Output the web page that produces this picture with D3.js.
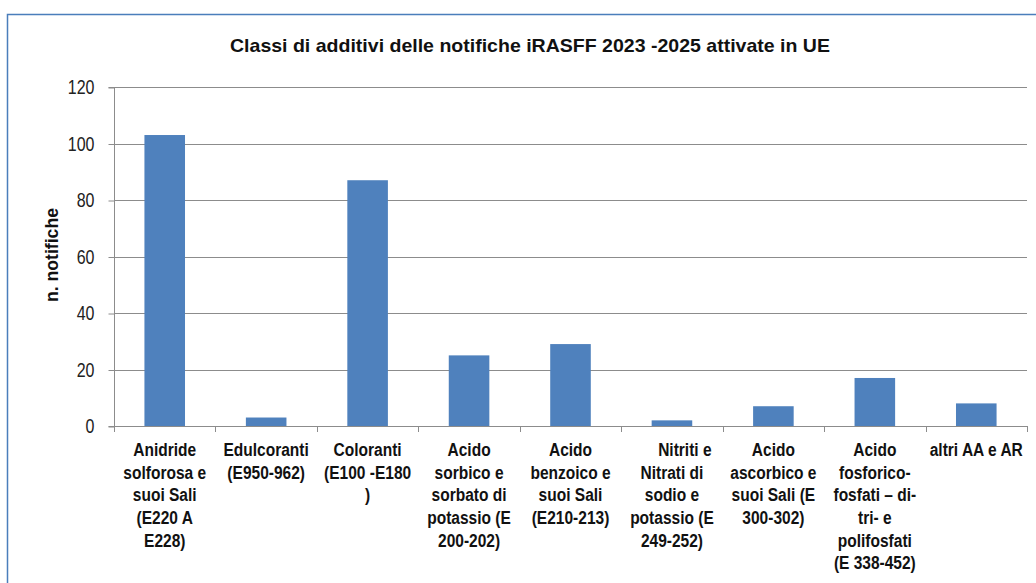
<!DOCTYPE html>
<html>
<head>
<meta charset="utf-8">
<script src="https://cdn.jsdelivr.net/npm/d3@7"></script>
<style>
  body { margin: 0; background: #fff; }
  svg { display: block; font-family: "Liberation Sans", Arial, sans-serif; }
</style>
</head>
<body>
<div id="chart"></div>
<script>
// Chart data
var categories = [
  ["Anidride", "solforosa e", "suoi Sali", "(E220 A", "E228)"],
  ["Edulcoranti", "(E950-962)"],
  ["Coloranti", "(E100 -E180", ")"],
  ["Acido", "sorbico e", "sorbato di", "potassio (E", "200-202)"],
  ["Acido", "benzoico e", "suoi Sali", "(E210-213)"],
  ["\u00a0\u00a0\u00a0\u00a0\u00a0\u00a0Nitriti e", "Nitrati di", "sodio e", "potassio (E", "249-252)"],
  ["Acido", "ascorbico e", "suoi Sali (E", "300-302)"],
  ["Acido", "fosforico-", "fosfati \u2013 di-", "tri- e", "polifosfati", "(E 338-452)"],
  ["altri AA e AR"]
];
var values = [103, 3, 87, 25, 29, 2, 7, 17, 8];
var yTicks = [0, 20, 40, 60, 80, 100, 120];

var titleText = "Classi di additivi delle notifiche iRASFF 2023 -2025 attivate in UE";
var yLabel = "n. notifiche";

// Layout
var svgWidth = 1036;
var svgHeight = 583;
var plot = { left: 114, right: 1027, top: 87, bottom: 426 };
var narrow = 0.83;   // squeeze to mimic a narrow font
var gray = "#8c8c8c";

var svg = d3.select("#chart")
  .append("svg")
  .attr("width", svgWidth)
  .attr("height", svgHeight);

// Outer chart frame (only top and left edges visible)
svg.append("path")
  .attr("d", `M7.5,${svgHeight} L7.5,14.5 L${svgWidth},14.5`)
  .attr("fill", "none")
  .attr("stroke", "#4a7ebb")
  .attr("stroke-width", 1.5);

// Scales
var x = d3.scaleBand()
  .domain(d3.range(values.length))
  .range([plot.left, plot.right])
  .paddingInner(0.6)
  .paddingOuter(0.3);

var y = d3.scaleLinear()
  .domain([0, 120])
  .range([plot.bottom, plot.top]);

// Gridlines
svg.append("g")
  .selectAll("line")
  .data(yTicks.filter(d => d > 0))
  .enter()
  .append("line")
  .attr("x1", plot.left)
  .attr("x2", plot.right)
  .attr("y1", d => Math.round(y(d)) + 0.5)
  .attr("y2", d => Math.round(y(d)) + 0.5)
  .attr("stroke", gray)
  .attr("stroke-width", 1);

// Y axis
var leftAxis = d3.axisLeft(y)
  .tickValues(yTicks)
  .tickSize(6)
  .tickPadding(14);

var yAxisGroup = svg.append("g")
  .attr("transform", `translate(${plot.left + 0.5}, 0.5)`)
  .call(leftAxis);
yAxisGroup.select(".domain")
  .attr("stroke", gray)
  .attr("d", `M-6,${plot.top}H0V${plot.bottom}H-6`);
yAxisGroup.selectAll(".tick line").attr("stroke", gray);
yAxisGroup.selectAll(".tick text")
  .attr("font-family", "Liberation Sans, Arial, sans-serif")
  .attr("font-size", "19.5px")
  .attr("fill", "#222")
  .attr("x", -20 / 0.82)
  .attr("transform", "scale(0.82,1)");

// Bars
svg.append("g")
  .selectAll("rect")
  .data(values)
  .enter()
  .append("rect")
  .attr("x", (d, i) => x(i))
  .attr("y", d => y(d))
  .attr("width", x.bandwidth())
  .attr("height", d => y(0) - y(d))
  .attr("fill", "#4f81bd");

// X axis line and category separators
var step = x.step();
svg.append("line")
  .attr("x1", plot.left)
  .attr("x2", plot.right)
  .attr("y1", plot.bottom + 0.5)
  .attr("y2", plot.bottom + 0.5)
  .attr("stroke", gray);

svg.append("g")
  .selectAll("line")
  .data(d3.range(values.length + 1))
  .enter()
  .append("line")
  .attr("x1", i => Math.round(plot.left + i * step) + 0.5)
  .attr("x2", i => Math.round(plot.left + i * step) + 0.5)
  .attr("y1", plot.bottom)
  .attr("y2", plot.bottom + 6)
  .attr("stroke", gray);

// Category labels
var catGroup = svg.append("g");
categories.forEach(function(lines, i) {
  var cx = x(i) + x.bandwidth() / 2;
  var t = catGroup.append("g")
    .attr("transform", `translate(${cx},456) scale(${narrow},1)`)
    .append("text")
    .attr("text-anchor", "middle")
    .attr("font-size", "18.7px")
    .attr("font-weight", "bold")
    .attr("fill", "#111");
  t.selectAll("tspan")
    .data(lines)
    .enter()
    .append("tspan")
    .attr("x", 0)
    .attr("dy", (d, j) => j === 0 ? 0 : 22.7)
    .text(d => d);
});

// Title
svg.append("text")
  .attr("x", 230)
  .attr("y", 52)
  .attr("font-size", "19px")
  .attr("font-weight", "bold")
  .attr("fill", "#111")
  .attr("textLength", 600)
  .attr("lengthAdjust", "spacingAndGlyphs")
  .text(titleText);

// Y axis title
svg.append("text")
  .attr("transform", "translate(58, 255) rotate(-90)")
  .attr("x", -47)
  .attr("font-size", "18.5px")
  .attr("font-weight", "bold")
  .attr("fill", "#111")
  .attr("textLength", 94)
  .attr("lengthAdjust", "spacingAndGlyphs")
  .text(yLabel);
</script>
</body>
</html>
